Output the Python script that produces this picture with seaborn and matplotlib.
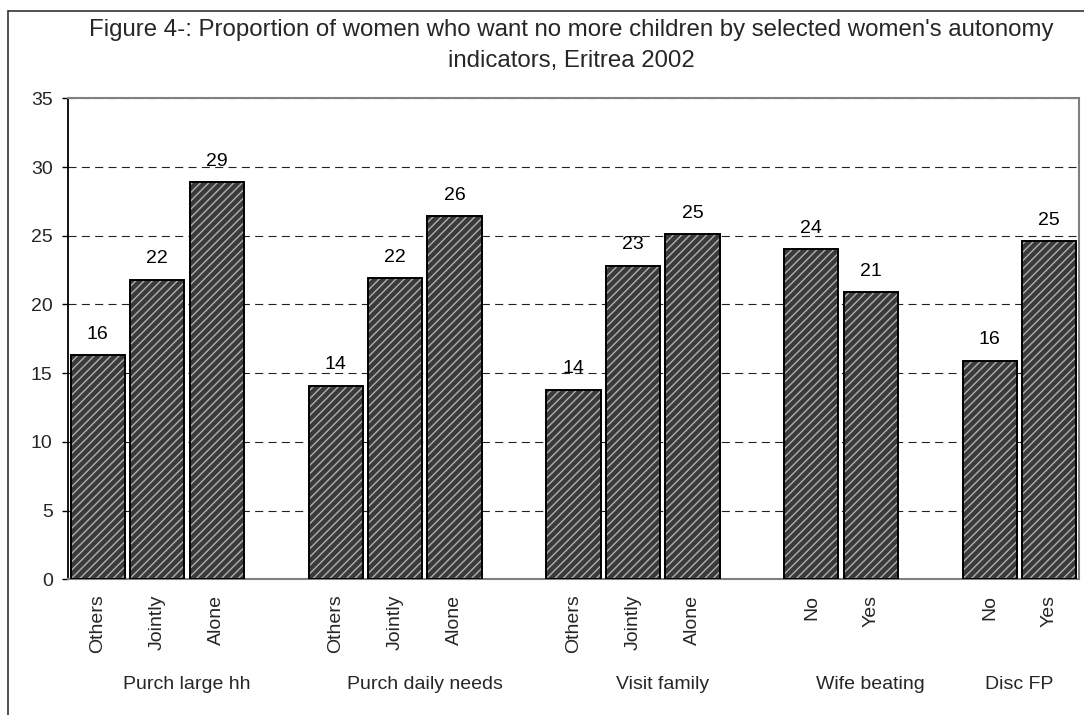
import numpy as np
import pandas as pd
import matplotlib
matplotlib.use("Agg")
import matplotlib.pyplot as plt
import matplotlib.transforms as mtransforms
from matplotlib.lines import Line2D
import seaborn as sns

# ---------------- data ----------------
title_line1 = "Figure 4-: Proportion of women who want no more children by selected women's autonomy"
title_line2 = "indicators, Eritrea 2002"

groups = ["Purch large hh", "Purch daily needs", "Visit family", "Wife beating", "Disc FP"]

purch_large_cats = ["Others", "Jointly", "Alone"]
purch_large_vals = [16.3, 21.8, 28.9]

purch_daily_cats = ["Others", "Jointly", "Alone"]
purch_daily_vals = [14.1, 21.9, 26.4]

visit_family_cats = ["Others", "Jointly", "Alone"]
visit_family_vals = [13.8, 22.8, 25.1]

wife_beating_cats = ["No", "Yes"]
wife_beating_vals = [24.0, 20.9]

disc_fp_cats = ["No", "Yes"]
disc_fp_vals = [15.9, 24.6]

y_ticks = [0, 5, 10, 15, 20, 25, 30, 35]

# ---------------- build table ----------------
group_cats = [purch_large_cats, purch_daily_cats, visit_family_cats, wife_beating_cats, disc_fp_cats]
group_vals = [purch_large_vals, purch_daily_vals, visit_family_vals, wife_beating_vals, disc_fp_vals]

order, ticklabels, rows, centers = [], [], [], []
for gi, (g, cats, vals) in enumerate(zip(groups, group_cats, group_vals)):
    start = len(order)
    for c, v in zip(cats, vals):
        key = f"{g}|{c}"
        order.append(key)
        ticklabels.append(c)
        rows.append({"key": key, "value": v})
    if gi < len(groups) - 1:
        order.append(f"gap{gi}")
        ticklabels.append("")
    centers.append((start + len(order) - 1) / 2)
df = pd.DataFrame(rows)

# ---------------- style ----------------
sns.set_style("white")
plt.rcParams["font.family"] = ["Liberation Sans", "DejaVu Sans"]
plt.rcParams["hatch.linewidth"] = 1.0
plt.rcParams["lines.scale_dashes"] = False

W, H = 1084, 715
fig = plt.figure(figsize=(W / 100, H / 100), dpi=100)
fig.patch.set_facecolor("white")
ax = fig.add_axes([68 / W, 1 - 579.3 / H, (1079 - 68) / W, (579.3 - 98.3) / H])

# hatched fill layer
sns.barplot(data=df, x="key", y="value", order=order, color="#3a3a3a", saturation=1,
            width=0.91, errorbar=None, ax=ax)
for p in ax.containers[0]:
    p.set_facecolor("#3a3a3a")
    p.set_edgecolor("#b0b0b0")
    p.set_hatch("////")
    p.set_linewidth(0)
    p.set_zorder(2)

# outline layer
sns.barplot(data=df, x="key", y="value", order=order, color="black", saturation=1,
            width=0.91, errorbar=None, fill=False, ax=ax)
for p in ax.containers[1]:
    p.set_facecolor("none")
    p.set_edgecolor("black")
    p.set_linewidth(1.4)
    p.set_zorder(3)

ax.bar_label(ax.containers[1], fmt="%.0f", padding=9, fontsize=14, color="black")

ax.set_xlim(-0.5, len(order) - 0.5)
ax.set_ylim(0, 35)
ax.set_yticks(y_ticks)
ax.set_xticks(range(len(order)))
ax.set_xticklabels(ticklabels, rotation=90, fontsize=14)
ax.set_xlabel("")
ax.set_ylabel("")
ax.tick_params(axis="y", which="both", direction="out", length=4, width=1, color="black",
               labelsize=14, pad=7, left=True)
ax.tick_params(axis="x", length=0, pad=11)

ax.set_axisbelow(True)
ax.yaxis.grid(True, color="#222222", linestyle=(0, (5.8, 3.8)), linewidth=0.8)
ax.xaxis.grid(False)

for s in ["top", "right", "bottom"]:
    ax.spines[s].set_visible(True)
    ax.spines[s].set_color("#808080")
    ax.spines[s].set_linewidth(1.5)
ax.spines["left"].set_color("black")
ax.spines["left"].set_linewidth(1.3)

# group labels
trans = mtransforms.blended_transform_factory(ax.transData, fig.transFigure)
for g, c in zip(groups, centers):
    ax.text(c, 1 - 689.3 / H, g, transform=trans, ha="center", va="baseline", fontsize=14)

# title
fig.text(571 / W, 1 - 35.7 / H, title_line1, ha="center", va="baseline", fontsize=17.3)
fig.text(571 / W, 1 - 66.7 / H, title_line2, ha="center", va="baseline", fontsize=17.3)

# outer chart frame (extends beyond the image on the right and bottom)
fig.add_artist(Line2D([8 / W, 1.02], [1 - 11 / H, 1 - 11 / H], transform=fig.transFigure,
                      color="#333333", lw=1.2))
fig.add_artist(Line2D([8 / W, 8 / W], [1 - 11 / H, -0.02], transform=fig.transFigure,
                      color="#333333", lw=1.2))

fig.savefig("out.png", dpi=100, facecolor="white")
